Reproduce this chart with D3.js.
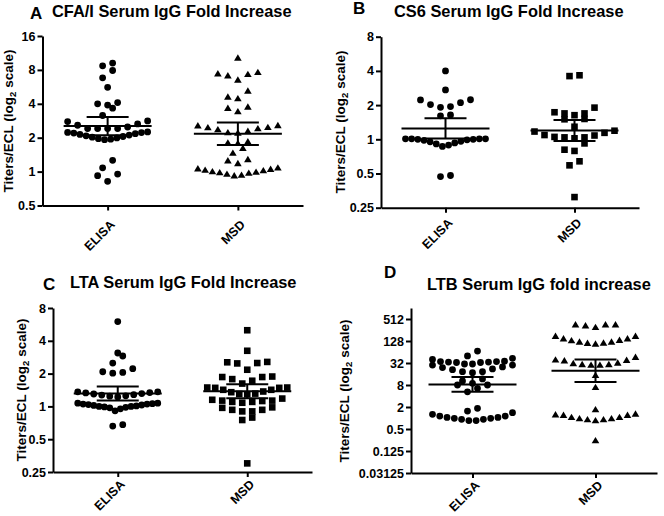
<!DOCTYPE html>
<html><head><meta charset="utf-8">
<script src="https://cdn.jsdelivr.net/npm/d3@7"></script>
<style>
body{margin:0;background:#fff}
svg{display:block}
text{font-family:"Liberation Sans",Arial,sans-serif;font-weight:bold;fill:#000}
</style></head>
<body><svg id="chart" width="664" height="516"></svg>
<script>
// ---------- data ----------
const categories = ["ELISA", "MSD"];

const cfaElisa = [9.2, 8.7, 7.9, 6.8, 5.6, 4.1, 4.0, 3.9, 3.66, 3.15, 2.82, 2.78, 2.65, 2.58, 2.49, 2.41, 2.41, 2.41, 2.41,
  2.25, 2.23, 2.22, 2.2, 2.17, 2.14, 2.11, 2.08, 2.05, 2.02, 1.99, 1.96, 1.94, 1.92, 1.26, 1.08, 0.95, 0.92, 0.82];
const cfaMsd = [10.2, 7.6, 7.4, 7.3, 7.1, 6.5, 5.2, 4.6, 4.45, 3.75, 3.65, 3.41, 2.57, 2.55, 2.47, 2.46, 2.41, 2.36, 2.28,
  2.22, 2.2, 1.84, 1.80, 1.78, 1.61, 1.46, 1.28, 1.25, 1.18, 1.08, 1.06, 1.05, 1.03, 1.02, 1.0, 0.99, 0.98, 0.97, 0.95, 0.93, 0.92];

const cs6Elisa = [4.0, 2.72, 2.23, 2.22, 2.10, 2.02, 1.94, 1.91, 1.64, 1.61, 1.01, 1.01, 1.01, 1.01, 1.0, 1.0, 0.99, 0.98,
  0.96, 0.95, 0.93, 0.91, 0.89, 0.865, 0.48, 0.47];
const cs6Msd = [3.66, 3.6, 1.90, 1.73, 1.69, 1.69, 1.63, 1.51, 1.50, 1.29, 1.19, 1.17, 1.14, 1.09, 1.08, 1.05, 1.04, 1.04,
  1.02, 0.92, 0.81, 0.79, 0.64, 0.59, 0.31];

const ltaElisa = [6.0, 3.09, 2.9, 2.50, 2.22, 2.08, 2.05, 2.02, 1.36, 1.36, 1.34, 1.33, 1.31, 1.30, 1.28, 1.27, 1.25, 1.24,
  1.22, 1.07, 1.07, 1.06, 1.05, 1.05, 1.04, 1.03, 1.02, 1.01, 1.0, 1.0, 0.99, 0.98, 0.97, 0.95, 0.91, 0.68, 0.66];
const ltaMsd = [5.0, 3.24, 2.56, 2.54, 2.50, 2.48, 2.17, 1.88, 1.86, 1.86, 1.78, 1.72, 1.62, 1.49, 1.49, 1.48, 1.48, 1.42,
  1.42, 1.37, 1.35, 1.31, 1.30, 1.29, 1.18, 1.15, 1.13, 1.13, 1.12, 1.10, 1.10, 1.08, 0.98, 0.97, 0.93, 0.93, 0.90, 0.90,
  0.79, 0.75, 0.30];

const ltbElisa = [68, 50, 43, 40, 36, 35, 35, 34, 34, 33, 33, 30, 30, 28, 28, 25, 24, 22, 21, 18.5, 18.5, 17.4, 11.7, 10.3,
  8.9, 8.0, 8.0, 6.5, 5.2, 1.84, 1.55, 1.4, 1.26, 1.13, 1.13, 1.04, 1.04, 0.98, 0.98, 0.92, 0.92, 0.85, 0.85];
const ltbMsd = [357, 357, 357, 336, 303, 172, 172, 148, 148, 134, 131, 120, 120, 113, 111, 106, 46, 39, 38, 37, 32, 31, 29,
  29, 28, 28, 14.7, 6.9, 1.69, 1.29, 1.23, 1.19, 1.19, 1.04, 1.04, 0.96, 0.96, 0.90, 0.90, 0.85, 0.24];

const ticksA = [0.5, 1, 2, 4, 8, 16];
const ticksB = [0.25, 0.5, 1, 2, 4, 8];
const ticksC = [0.25, 0.5, 1, 2, 4, 8];
const ticksD = [0.03125, 0.125, 0.5, 2, 8, 32, 128, 512];

const letters = ["A", "B", "C", "D"];
const titles = ["CFA/I Serum IgG Fold Increase", "CS6 Serum IgG Fold Increase",
                "LTA Serum IgG Fold Increase", "LTB Serum IgG fold increase"];

// ---------- layout ----------
const panels = [
  {series:[cfaElisa, cfaMsd], shapes:["circle","triangle"], ticks:ticksA, domain:[0.5,16],
   x0:42.5, x1:303, y0:205.5, y1:36, letter:[30,18.5], title:[52,16.5], ylab:[12.5,121], labOff:13.5},
  {series:[cs6Elisa, cs6Msd], shapes:["circle","square"], ticks:ticksB, domain:[0.25,8],
   x0:381, x1:639, y0:207.7, y1:36.7, letter:[353,13.5], title:[394,17], ylab:[344.5,122], labOff:9.5},
  {series:[ltaElisa, ltaMsd], shapes:["circle","square"], ticks:ticksC, domain:[0.25,8],
   x0:53, x1:312, y0:472, y1:308, letter:[43,290], title:[70,288], ylab:[25.5,390], labOff:6.7},
  {series:[ltbElisa, ltbMsd], shapes:["circle","triangle"], ticks:ticksD, domain:[0.03125,1024],
   x0:411, x1:657, y0:473, y1:308, letter:[384,278], title:[427,290], ylab:[348.5,391], labOff:6.7}
];

const svg = d3.select("#chart");
const ROW_H = 8;

function layoutRows(values, y){
  const pts = values.map(v => ({v, py: y(v)})).sort((a,b) => a.v - b.v);
  const rows = []; let cur = null;
  for (const p of pts){
    if (cur && cur[0].py - p.py <= ROW_H + 1e-9) cur.push(p);
    else { cur = [p]; rows.push(cur); }
  }
  rows.forEach(r => {
    const n = r.length, w = n > 1 ? Math.min(10, 80/(n-1)) : 0;
    r.forEach((p,i) => {
      let k;
      if (n % 2) k = i === 0 ? 0 : (i % 2 ? -Math.ceil(i/2) : Math.ceil(i/2));
      else { const m = Math.floor(i/2); k = (i % 2 ? 1 : -1) * (m + 0.5); }
      p.dx = k * w;
    });
  });
  return pts;
}

function geoStats(values){
  const logs = values.map(Math.log2);
  const n = logs.length, m = d3.mean(logs), sd = d3.deviation(logs);
  const t = 1.96 + 2.4/(n-1), h = t*sd/Math.sqrt(n);
  return {mean: 2**m, lo: 2**(m-h), hi: 2**(m+h)};
}

const triPath = "M0,-3.7L3.8,2.7L-3.8,2.7Z";

panels.forEach((P, pi) => {
  const g = svg.append("g");
  const y = d3.scaleLog().base(2).domain(P.domain).range([P.y0, P.y1]);
  const x = d3.scalePoint().domain(categories).range([P.x0, P.x1]).padding(0.5);

  // points
  P.series.forEach((vals, si) => {
    const cx = x(categories[si]);
    const pts = layoutRows(vals, y);
    const shape = P.shapes[si];
    const sel = g.append("g").selectAll("path").data(pts).join("path")
      .attr("fill", "#000")
      .attr("transform", d => `translate(${cx + d.dx},${d.py})`);
    if (shape === "circle") sel.attr("d", d3.symbol(d3.symbolCircle, Math.PI*3.4*3.4)());
    else if (shape === "square") sel.attr("d", "M-3.3,-3.3H3.3V3.3H-3.3Z");
    else sel.attr("d", triPath);

    // geometric mean with 95% CI
    const s = geoStats(vals);
    const eb = g.append("g").attr("stroke", "#000").attr("stroke-width", 2).attr("fill", "none");
    eb.append("line").attr("x1", cx-44).attr("x2", cx+44).attr("y1", y(s.mean)).attr("y2", y(s.mean));
    eb.append("line").attr("x1", cx).attr("x2", cx).attr("y1", y(s.lo)).attr("y2", y(s.hi));
    eb.append("line").attr("x1", cx-21).attr("x2", cx+21).attr("y1", y(s.lo)).attr("y2", y(s.lo));
    eb.append("line").attr("x1", cx-21).attr("x2", cx+21).attr("y1", y(s.hi)).attr("y2", y(s.hi));
  });

  // y axis
  const ya = g.append("g").attr("transform", `translate(${P.x0},0)`)
    .call(d3.axisLeft(y).tickValues(P.ticks).tickFormat(d => String(d)).tickSize(5).tickSizeOuter(0).tickPadding(2));
  // x axis
  const xa = g.append("g").attr("transform", `translate(0,${P.y0})`)
    .call(d3.axisBottom(x).tickSize(5).tickSizeOuter(0));
  [ya, xa].forEach(a => {
    a.select(".domain").attr("stroke", "#000").attr("stroke-width", 2);
    a.selectAll(".tick line").attr("stroke", "#000").attr("stroke-width", 2);
    a.selectAll("text").style("font-family", '"Liberation Sans", Arial, sans-serif')
      .style("font-weight", "bold").attr("fill", "#000");
  });
  ya.selectAll("text").style("font-size", "12.5px");
  xa.selectAll("text").style("font-size", "12.5px")
    .attr("text-anchor", "end").attr("dy", null).attr("y", null)
    .attr("transform", `translate(7.4,${P.labOff + 6.4}) rotate(-45)`);

  // letter + title
  g.append("text").attr("x", P.letter[0]).attr("y", P.letter[1]).style("font-size", "17px").text(letters[pi]);
  g.append("text").attr("x", P.title[0]).attr("y", P.title[1]).style("font-size", "16.4px").text(titles[pi]);

  // y label
  const yl = g.append("text").attr("transform", `translate(${P.ylab[0]},${P.ylab[1]}) rotate(-90)`)
    .attr("text-anchor", "middle").style("font-size", "13.5px");
  yl.append("tspan").text("Titers/ECL (log");
  yl.append("tspan").attr("dy", 3).style("font-size", "9.5px").text("2");
  yl.append("tspan").attr("dy", -3).text(" scale)");
});
</script>
</body></html>
